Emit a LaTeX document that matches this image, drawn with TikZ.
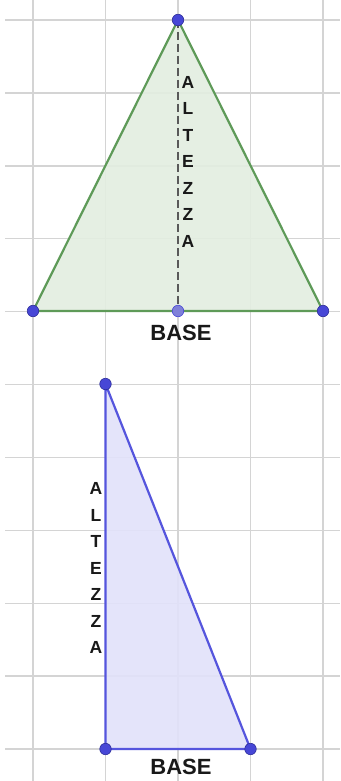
\documentclass[tikz,border=0pt]{standalone}
\usepackage{fontspec}
\setmainfont{Liberation Sans}
\definecolor{gridc}{HTML}{D4D4D4}
\definecolor{greenedge}{HTML}{5E9A58}
\definecolor{greenfill}{HTML}{E3EEE1}
\definecolor{blueedge}{HTML}{5555DD}
\definecolor{bluefill}{HTML}{E2E2FA}
\definecolor{dotc}{HTML}{4747D6}
\definecolor{dotline}{HTML}{2E2E9A}
\definecolor{middot}{HTML}{7F80D8}
\begin{document}
\begin{tikzpicture}[x=1pt,y=-1pt,
  gridline/.style={draw=gridc,line width=1.4pt},
  dotnode/.style={circle,fill=dotc,draw=dotline,line width=0.6pt,inner sep=0pt,minimum size=11.5pt},
  middotnode/.style={dotnode,fill=middot,draw=dotc},
  lbl/.style={font=\bfseries\fontsize{22}{22}\selectfont,inner sep=0pt,text=black!90},
  vlbl/.style={font=\bfseries\fontsize{17.5}{26.5}\selectfont,inner sep=0pt,align=center,text=black!90}]
\useasboundingbox (0,0) rectangle (340,781);
\fill[white] (0,0) rectangle (340,781);
% grid
\foreach \x in {33,105.5,178,250.5,323} \draw[gridline] (\x,0) -- (\x,781);
\foreach \k in {0,...,10} \draw[gridline] (5,20+72.9*\k) -- (340,20+72.9*\k);
% triangle 1
\coordinate (t1a) at (178,20);
\coordinate (t1b) at (33,311);
\coordinate (t1c) at (323,311);
\coordinate (t1m) at (178,311);
\filldraw[fill=greenfill,fill opacity=0.9,draw=greenedge,line width=2.2pt,line join=round] (t1a) -- (t1b) -- (t1c) -- cycle;
\draw[black!65,line width=2pt,dash pattern=on 8pt off 4pt] (t1a) -- (t1m);
\node[dotnode] (p1a) at (t1a) {};
\node[dotnode] (p1b) at (t1b) {};
\node[dotnode] (p1c) at (t1c) {};
\node[middotnode] (p1m) at (t1m) {};
\node[vlbl] (alt1) at (188,161.5) {A\\L\\T\\E\\Z\\Z\\A};
\node[lbl] (base1) at (181,333) {BASE};
% triangle 2
\coordinate (t2a) at (105.5,384);
\coordinate (t2b) at (105.5,749);
\coordinate (t2c) at (250.5,749);
\filldraw[fill=bluefill,fill opacity=0.9,draw=blueedge,line width=2.2pt,line join=round] (t2a) -- (t2b) -- (t2c) -- cycle;
\node[dotnode] (p2a) at (t2a) {};
\node[dotnode] (p2b) at (t2b) {};
\node[dotnode] (p2c) at (t2c) {};
\node[vlbl] (alt2) at (96,568) {A\\L\\T\\E\\Z\\Z\\A};
\node[lbl] (base2) at (181,767) {BASE};
\end{tikzpicture}
\end{document}
